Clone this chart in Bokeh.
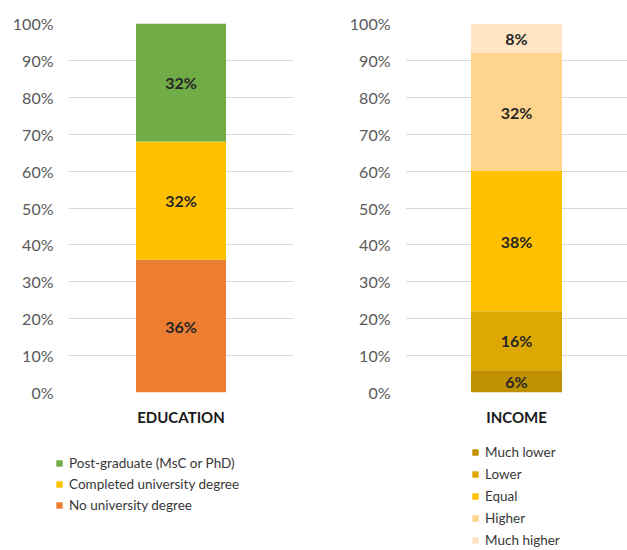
import numpy as np
from bokeh.plotting import figure
from bokeh.models import ColumnDataSource, Legend, LegendItem, FixedTicker, NumeralTickFormatter, LabelSet
from bokeh.core.properties import value
from bokeh.layouts import row, column
from bokeh.embed import file_html
from bokeh.resources import INLINE

# ---- data ----
edu_category = ["EDUCATION"]
edu_series = ["No university degree", "Completed university degree", "Post-graduate (MsC or PhD)"]
edu_values = [0.36, 0.32, 0.32]
edu_colors = ["#ED7D31", "#FFC000", "#70AD47"]

inc_category = ["INCOME"]
inc_series = ["Much lower", "Lower", "Equal", "Higher", "Much higher"]
inc_values = [0.06, 0.16, 0.38, 0.32, 0.08]
inc_colors = ["#BF9000", "#DDA804", "#FFC000", "#FFD58E", "#FFE5C4"]

y_ticks = [0.0, 0.1, 0.2, 0.3, 0.4, 0.5, 0.6, 0.7, 0.8, 0.9, 1.0]

FONT = "Lato"
MAIN_H = 430
LEG_H = 550 - MAIN_H


def make_panel(cat, series, values, colors, width, b_left, b_right, b_top, b_bottom,
               bar_width, standoff_y):
    p = figure(x_range=cat, y_range=(0, 1), width=width, height=MAIN_H,
               output_backend="svg", toolbar_location=None,
               min_border_left=b_left, min_border_right=b_right,
               min_border_top=b_top, min_border_bottom=b_bottom)
    data = {"cat": cat}
    for s, v in zip(series, values):
        data[s] = [v]
    src = ColumnDataSource(data)
    p.vbar_stack(series, x="cat", width=bar_width, color=colors, source=src,
                 line_color=None)

    cum = np.cumsum(values)
    mids = cum - np.array(values) / 2
    lab_src = ColumnDataSource(dict(x=[cat[0]] * len(values), y=list(mids),
                                    t=[f"{round(v * 100)}%" for v in values]))
    labels = LabelSet(x="x", y="y", text="t", source=lab_src, text_align="center",
                      text_baseline="middle", text_font=value(FONT),
                      text_font_style="bold",
                      text_font_size=value("16px"), text_color="#262626")
    p.add_layout(labels)

    p.yaxis.ticker = FixedTicker(ticks=y_ticks)
    p.yaxis.formatter = NumeralTickFormatter(format="0%")
    p.yaxis.axis_line_color = None
    p.yaxis.major_tick_line_color = None
    p.yaxis.minor_tick_line_color = None
    p.yaxis.major_tick_out = 0
    p.yaxis.major_tick_in = 0
    p.yaxis.major_label_standoff = standoff_y
    p.yaxis.major_label_text_font = FONT
    p.yaxis.major_label_text_font_size = "16px"
    p.yaxis.major_label_text_color = "#595959"

    p.xaxis.axis_line_color = None
    p.xaxis.major_tick_line_color = None
    p.xaxis.minor_tick_line_color = None
    p.xaxis.major_tick_out = 0
    p.xaxis.major_tick_in = 0
    p.xaxis.major_label_standoff = 15
    p.xaxis.major_label_text_font = FONT
    p.xaxis.major_label_text_font_style = "bold"
    p.xaxis.major_label_text_font_size = "15px"
    p.xaxis.major_label_text_color = "#1a1a1a"

    p.xgrid.grid_line_color = None
    p.ygrid.grid_line_color = "#d9d9d9"
    p.ygrid.grid_line_width = 1
    p.outline_line_color = None
    return p, src


p1, src1 = make_panel(edu_category, edu_series, edu_values, edu_colors, 320, 68, 27, 22,
                      MAIN_H - 392, 0.4, 15)
p2, src2 = make_panel(inc_category, inc_series, inc_values, inc_colors, 307, 85, 0, 23,
                      MAIN_H - 395, 0.41, 15)

# legend strip below both charts
lf = figure(x_range=(0, 1), y_range=(10, 11), width=627, height=LEG_H,
            output_backend="svg", toolbar_location=None,
            x_axis_type=None, y_axis_type=None,
            min_border_left=0, min_border_right=0, min_border_top=0, min_border_bottom=0)
lf.xgrid.grid_line_color = None
lf.ygrid.grid_line_color = None
lf.outline_line_color = None


def add_legend(series, values, colors, order, loc, row_h):
    src = ColumnDataSource({"x": [0.5], **{s: [v] for s, v in zip(series, values)}})
    rends = lf.vbar_stack(series, x="x", width=0.1, color=colors, source=src,
                          line_color=None)
    items = [LegendItem(label=series[i], renderers=[rends[i]]) for i in order]
    leg = Legend(items=items, location=loc, orientation="vertical",
                 padding=0, margin=0, spacing=0, border_line_color=None,
                 background_fill_alpha=0, glyph_width=8, glyph_height=8,
                 label_standoff=6, label_height=row_h, label_text_font=FONT,
                 label_text_font_size="13.5px", label_text_color="#383838",
                 label_text_baseline="middle")
    lf.add_layout(leg)


add_legend(edu_series, edu_values, edu_colors, [2, 1, 0], (55, 35), 21)
add_legend(inc_series, inc_values, inc_colors, [0, 1, 2, 3, 4], (471, -1), 22)

layout = column(row(p1, p2, spacing=0), lf, spacing=0)
open("out.html", "w").write(file_html(layout, INLINE))
